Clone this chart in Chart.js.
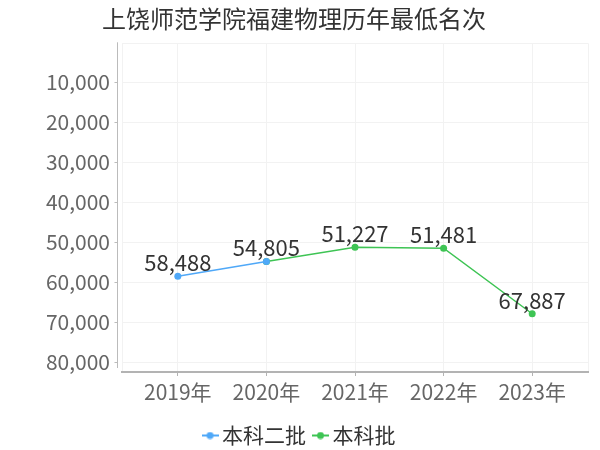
<!DOCTYPE html>
<html>
<head>
<meta charset="utf-8">
<script src="https://cdn.jsdelivr.net/npm/chart.js@4.4.1/dist/chart.umd.min.js"></script>
<style>
  html, body { margin: 0; padding: 0; background: #fff; }
  #wrap { width: 600px; height: 450px; }
</style>
</head>
<body>
<div id="wrap"><canvas id="chart" width="600" height="450"></canvas></div>
<script>
const years = ["2019年", "2020年", "2021年", "2022年", "2023年"];
const seriesNames = ["本科二批", "本科批"];
const erpiRanks = [58488, 54805, null, null, null];
const benkeRanks = [null, 54805, 51227, 51481, 67887];
const yTickValues = [10000, 20000, 30000, 40000, 50000, 60000, 70000, 80000];

const FONT = "'Noto Sans CJK SC', 'Noto Sans', sans-serif";
const BLUE = "#4fa8f8";
const GREEN = "#3ec454";
const X_MIN = -0.63, X_MAX = 4.63;
const Y_MIN = 250, Y_MAX = 82450;

function legendMarker(color) {
  const c = document.createElement("canvas");
  c.width = 17;
  c.height = 8;
  const g = c.getContext("2d");
  g.strokeStyle = color;
  g.lineWidth = 2;
  g.beginPath();
  g.moveTo(0, 4);
  g.lineTo(17, 4);
  g.stroke();
  g.fillStyle = color;
  g.beginPath();
  g.arc(8.5, 4, 3.5, 0, Math.PI * 2);
  g.fill();
  return c;
}
const markers = [legendMarker(BLUE), legendMarker(GREEN)];

function toPoints(values) {
  return values.map((v, i) => ({ x: i, y: v }));
}

// axis line on the left sits a little apart from the plot box, with small ticks
const axisDecor = {
  id: "axisDecor",
  afterLayout(chart) {
    const lg = chart.legend;
    lg.top += 6; lg.bottom += 6;
    lg.left += 8; lg.right += 8;
  },
  afterDraw(chart) {
    const { ctx, chartArea } = chart;
    const y = chart.scales.y;
    const ax = Math.round(chartArea.left - 5) + 0.5;
    ctx.save();
    ctx.strokeStyle = "#bbbbbb";
    ctx.lineWidth = 1;
    ctx.beginPath();
    ctx.moveTo(ax, chartArea.top - 1);
    ctx.lineTo(ax, chartArea.bottom - 4);
    for (const v of yTickValues) {
      const py = Math.round(y.getPixelForValue(v)) + 0.5;
      ctx.moveTo(ax - 3, py);
      ctx.lineTo(ax, py);
    }
    ctx.stroke();
    ctx.restore();
  }
};

const valueLabels = {
  id: "valueLabels",
  afterDatasetsDraw(chart) {
    const { ctx } = chart;
    const done = new Set();
    ctx.save();
    ctx.font = "22px " + FONT;
    ctx.fillStyle = "#333333";
    ctx.textAlign = "center";
    ctx.textBaseline = "alphabetic";
    chart.data.datasets.forEach((ds, di) => {
      const meta = chart.getDatasetMeta(di);
      ds.data.forEach((p, i) => {
        if (p.y == null) return;
        const key = i + ":" + p.y;
        if (done.has(key)) return;
        done.add(key);
        const el = meta.data[i];
        ctx.fillText(p.y.toLocaleString("en-US"), el.x, el.y - 5);
      });
    });
    ctx.restore();
  }
};

new Chart(document.getElementById("chart"), {
  type: "line",
  data: {
    datasets: [{
      label: seriesNames[0],
      data: toPoints(erpiRanks),
      borderColor: BLUE,
      backgroundColor: BLUE,
      borderWidth: 1.5,
      pointRadius: 3.5,
      pointBorderWidth: 0,
      tension: 0,
    }, {
      label: seriesNames[1],
      data: toPoints(benkeRanks),
      borderColor: GREEN,
      backgroundColor: GREEN,
      borderWidth: 1.5,
      pointRadius: 3.5,
      pointBorderWidth: 0,
      tension: 0,
    }],
  },
  options: {
    responsive: false,
    animation: false,
    layout: { padding: { left: 0, right: 12, top: 0, bottom: 0 } },
    scales: {
      x: {
        type: "linear",
        min: X_MIN,
        max: X_MAX,
        afterBuildTicks(scale) {
          scale.ticks = [X_MIN, 0, 1, 2, 3, 4, X_MAX].map(v => ({ value: v }));
        },
        afterFit(scale) { scale.height = 34; },
        grid: {
          color: "#f2f2f2",
          drawTicks: true,
          tickLength: 4,
          tickColor: (c) => Number.isInteger(c.tick.value) ? "#b3b3b3" : "rgba(0,0,0,0)",
        },
        border: { display: true, color: "#b3b3b3", width: 2 },
        ticks: {
          padding: 3,
          maxRotation: 0,
          autoSkip: false,
          color: "#666666",
          font: { family: FONT, size: 21 },
          callback: (v) => Number.isInteger(v) ? years[v] : "",
        },
      },
      y: {
        reverse: true,
        min: Y_MIN,
        max: Y_MAX,
        afterBuildTicks(scale) {
          scale.ticks = [Y_MIN, ...yTickValues, Y_MAX].map(v => ({ value: v }));
        },
        afterFit(scale) { scale.width = 122; },
        grid: { color: "#f2f2f2", drawTicks: false },
        border: { display: false },
        ticks: {
          padding: 12,
          color: "#666666",
          font: { family: FONT, size: 21 },
          callback: (v) => yTickValues.includes(v) ? v.toLocaleString("en-US") : "",
        },
      },
    },
    plugins: {
      title: {
        display: true,
        text: "上饶师范学院福建物理历年最低名次",
        color: "#333333",
        font: { family: FONT, size: 24, weight: "normal" },
        padding: { top: 4, bottom: 10.5 },
      },
      legend: {
        position: "bottom",
        labels: {
          usePointStyle: true,
          pointStyleWidth: 3,
          padding: 13,
          color: "#333333",
          font: { family: FONT, size: 21 },
          generateLabels(chart) {
            const items = Chart.defaults.plugins.legend.labels.generateLabels(chart);
            items.forEach((it, i) => { it.pointStyle = markers[i]; });
            return items;
          },
        },
      },
      tooltip: { enabled: false },
    },
  },
  plugins: [axisDecor, valueLabels],
});
</script>
</body>
</html>
